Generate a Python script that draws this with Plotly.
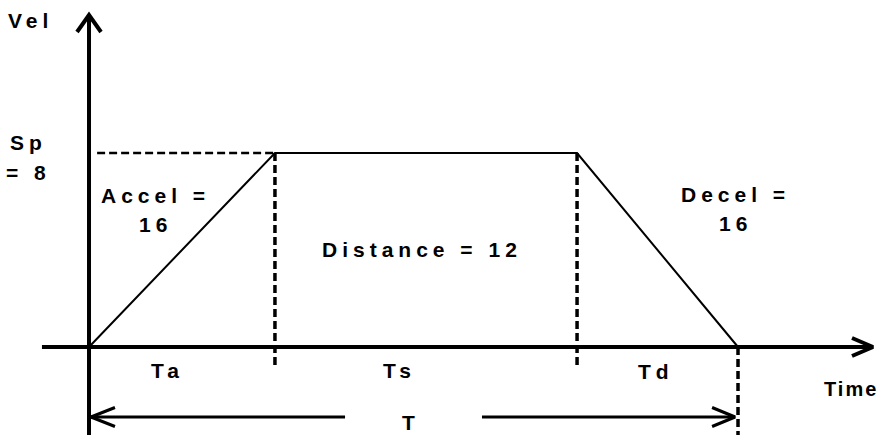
import plotly.graph_objects as go

# velocity profile (time units chosen so T = 2)
t_prof = [0, 0.573, 1.504, 2.0]
v_prof = [0, 8, 8, 0]
speed = 8

# axes extents
t_axis = [-0.145, 2.416]
v_axis = [-3.63, 13.69]
t_range = [-0.2743, 2.4468]
v_range = [-3.629, 14.309]

# total-time arrow
t_arrow_v = -2.887
t_arrow_left = [0.006, 0.789]
t_arrow_right = [1.211, 1.991]

# labels: text, t, v
labels = [
    ("Vel", -0.179, 13.46),
    ("Sp", -0.185, 8.45),
    ("= 8", -0.185, 7.2),
    ("Accel =", 0.205, 6.23),
    ("16", 0.206, 5.07),
    ("Distance = 12", 1.026, 4.02),
    ("Decel =", 1.991, 6.27),
    ("16", 1.991, 5.11),
    ("Ta", 0.243, -0.95),
    ("Ts", 0.958, -0.95),
    ("Td", 1.747, -0.99),
    ("T", 0.992, -3.13),
]
time_label = ("Time", 2.262, -1.73)

W, H = 883, 435
px_t = W / (t_range[1] - t_range[0])
px_v = H / (v_range[1] - v_range[0])


def chevron(tip_t, tip_v, direction, back, half):
    # open arrowhead, back/half in pixels
    if direction == "up":
        return ([tip_t - half / px_t, tip_t, tip_t + half / px_t],
                [tip_v - back / px_v, tip_v, tip_v - back / px_v])
    sign = 1 if direction == "right" else -1
    return ([tip_t - sign * back / px_t, tip_t, tip_t - sign * back / px_t],
            [tip_v + half / px_v, tip_v, tip_v - half / px_v])


black = "black"
fig = go.Figure()


def line(x, y, width, dash="solid"):
    fig.add_trace(go.Scatter(x=x, y=y, mode="lines", hoverinfo="skip",
                             line=dict(color=black, width=width, dash=dash)))


# axes
line([0, 0], v_axis, 4)
line(t_axis, [0, 0], 4)
cx, cy = chevron(0, v_axis[1], "up", 17, 12)
line(cx, cy, 4)
cx, cy = chevron(t_axis[1], 0, "right", 21, 9)
line(cx, cy, 4)

# guides
dash = "8px,4px"
line([0.025, t_prof[1]], [speed, speed], 2.5, dash)
line([t_prof[1], t_prof[1]], [speed, -0.74], 3.5, dash)
line([t_prof[2], t_prof[2]], [speed, -0.74], 3.5, dash)
line([t_prof[3], t_prof[3]], [0, v_range[0]], 3.5, dash)

# profile
line(t_prof, v_prof, 2)

# total time arrow
line(t_arrow_left, [t_arrow_v, t_arrow_v], 3)
line(t_arrow_right, [t_arrow_v, t_arrow_v], 3)
cx, cy = chevron(t_arrow_left[0], t_arrow_v, "left", 24, 9.5)
line(cx, cy, 3)
cx, cy = chevron(t_arrow_right[1], t_arrow_v, "right", 23, 9.5)
line(cx, cy, 3)

font = dict(family="Liberation Sans, Arial", size=21, color=black, weight="bold")
for text, x, y in labels:
    fig.add_annotation(
        x=x, y=y, showarrow=False, xanchor="center", yanchor="middle",
        text='<span style="letter-spacing:5px">%s</span>' % text, font=font,
    )
fig.add_annotation(
    x=time_label[1], y=time_label[2], showarrow=False, xanchor="left", yanchor="middle",
    text='<span style="letter-spacing:2px">%s</span>' % time_label[0],
    font=dict(font, size=20), borderpad=0,
)

fig.update_layout(
    width=W, height=H,
    margin=dict(l=0, r=0, t=0, b=0),
    paper_bgcolor="white", plot_bgcolor="white",
    showlegend=False,
    xaxis=dict(range=t_range, visible=False, fixedrange=True),
    yaxis=dict(range=v_range, visible=False, fixedrange=True),
)

fig.write_html("out.html", config={"displayModeBar": False},
               post_script="document.body.style.margin='0';")
